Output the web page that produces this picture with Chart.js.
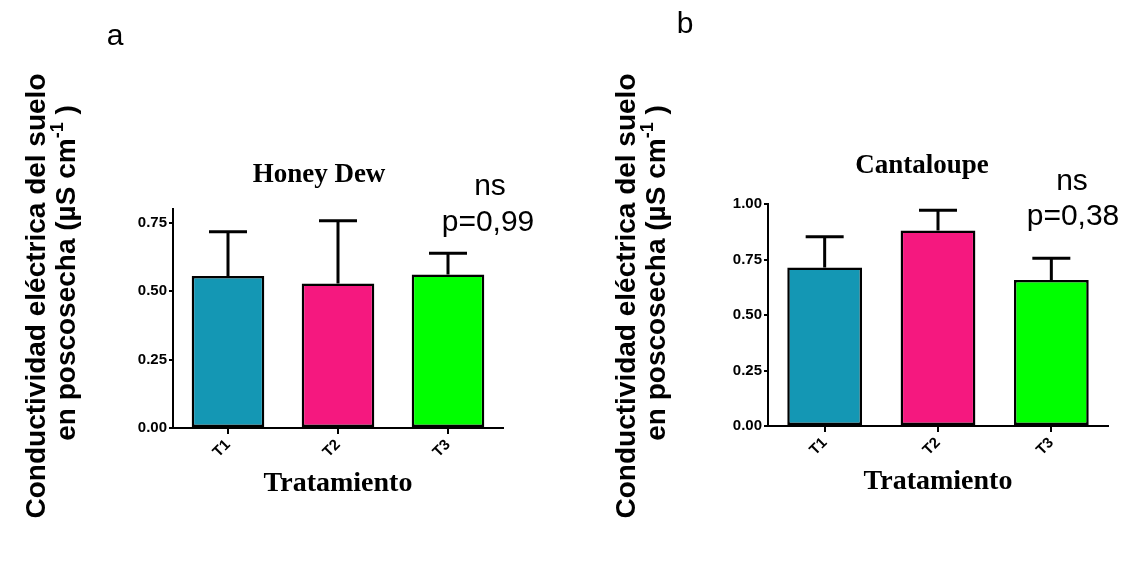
<!DOCTYPE html>
<html>
<head>
<meta charset="utf-8">
<script src="https://cdn.jsdelivr.net/npm/chart.js@4"></script>
<style>
body { margin: 0; background: #fff; width: 1129px; height: 564px; position: relative; overflow: hidden; }
canvas { position: absolute; top: 0; }
</style>
</head>
<body>
<canvas id="chartA" width="565" height="564" style="left:0"></canvas>
<canvas id="chartB" width="564" height="564" style="left:565px"></canvas>
<script>
// datos
var categories = ["T1", "T2", "T3"];
var barColors = ["#1497b4", "#f5187f", "#00ff00"];

var honeyMeans = [0.555, 0.528, 0.561];
var honeyErr = [0.162, 0.229, 0.077];
var cantaMeans = [0.714, 0.881, 0.658];
var cantaErr = [0.139, 0.091, 0.098];

var yTicksA = [0, 0.25, 0.5, 0.75];
var yTicksB = [0, 0.25, 0.5, 0.75, 1.0];

var yTitle1 = "Conductividad eléctrica del suelo";
var yTitle2 = "en poscosecha (µS cm";
var xTitle = "Tratamiento";

var SANS = '"Liberation Sans", Arial, sans-serif';
var SERIF = '"Liberation Serif", "Times New Roman", serif';

Chart.defaults.color = "#000";

// barras de error (solo hacia arriba)
var errorBars = {
  id: "errorBars",
  afterDatasetsDraw: function(chart, args, opts) {
    var ctx = chart.ctx;
    var ys = chart.scales.y;
    var ds = chart.data.datasets[0];
    var meta = chart.getDatasetMeta(0);
    ctx.save();
    ctx.strokeStyle = "#000";
    ctx.lineWidth = 3;
    meta.data.forEach(function(bar, i) {
      var top = ys.getPixelForValue(ds.data[i] + opts.err[i]);
      ctx.beginPath();
      ctx.moveTo(bar.x, bar.y);
      ctx.lineTo(bar.x, top);
      ctx.moveTo(bar.x - 19, top);
      ctx.lineTo(bar.x + 19, top);
      ctx.stroke();
    });
    ctx.restore();
  }
};

// textos: letra del panel, titulo, ns / p, titulo del eje y
var panelTexts = {
  id: "panelTexts",
  afterDraw: function(chart, args, o) {
    var ctx = chart.ctx;
    ctx.save();
    ctx.fillStyle = "#000";
    ctx.textAlign = "center";
    ctx.textBaseline = "alphabetic";

    ctx.font = "30px " + SANS;
    ctx.fillText(o.letter, o.letterX, o.letterY);

    ctx.font = "bold 27px " + SERIF;
    ctx.fillText(o.title, o.titleX, o.titleY);

    ctx.font = "30px " + SANS;
    ctx.fillText("ns", o.nsX, o.nsY);
    ctx.fillText(o.pText, o.pX, o.pY);
    ctx.restore();

    // titulo eje y, linea 1
    ctx.save();
    ctx.fillStyle = "#000";
    ctx.font = "bold 28px " + SANS;
    ctx.textAlign = "center";
    ctx.textBaseline = "alphabetic";
    ctx.translate(o.y1X, o.y1C);
    ctx.rotate(-Math.PI / 2);
    ctx.fillText(yTitle1, 0, 0);
    ctx.restore();

    // linea 2 con superindice
    ctx.save();
    ctx.fillStyle = "#000";
    ctx.textBaseline = "alphabetic";
    ctx.textAlign = "left";
    ctx.translate(o.y2X, o.y2C);
    ctx.rotate(-Math.PI / 2);
    var big = "bold 28px " + SANS, small = "bold 18px " + SANS;
    ctx.font = big;
    var w1 = ctx.measureText(yTitle2).width;
    var w3 = ctx.measureText(" )").width;
    ctx.font = small;
    var w2 = ctx.measureText("-1").width;
    var x = -(w1 + w2 + w3) / 2;
    ctx.font = big;
    ctx.fillText(yTitle2, x, 0);
    ctx.font = small;
    ctx.fillText("-1", x + w1, -12);
    ctx.font = big;
    ctx.fillText(" )", x + w1 + w2, 0);
    ctx.restore();
  }
};

function makeChart(id, means, errs, yMax, yTicks, yWidth, pad, texts) {
  return new Chart(document.getElementById(id), {
    type: "bar",
    data: {
      labels: categories,
      datasets: [{
        data: means,
        backgroundColor: barColors,
        borderColor: "#000",
        borderWidth: 2.5,
        borderSkipped: false,
        barPercentage: 0.66,
        categoryPercentage: 1
      }]
    },
    plugins: [errorBars, panelTexts],
    options: {
      responsive: false,
      animation: false,
      layout: { padding: pad },
      plugins: {
        legend: { display: false },
        tooltip: { enabled: false },
        errorBars: { err: errs },
        panelTexts: texts
      },
      scales: {
        x: {
          grid: { display: true, drawOnChartArea: false, drawTicks: true, tickLength: 6, offset: false, color: "#000", lineWidth: 2 },
          border: { display: true, color: "#000", width: 2 },
          ticks: { font: { family: SANS, size: 15, weight: "bold" }, minRotation: 45, maxRotation: 45, padding: 2 },
          title: { display: true, text: xTitle, font: { family: SERIF, size: 28, weight: "bold" }, padding: { top: 0, bottom: 7 } },
          afterFit: function(s) { s.height = 80; }
        },
        y: {
          min: 0,
          max: yMax,
          grid: { display: true, drawOnChartArea: false, drawTicks: true, tickLength: 4, color: "#000", lineWidth: 2 },
          border: { display: true, color: "#000", width: 2 },
          ticks: {
            font: { family: SANS, size: 15, weight: "bold" },
            padding: 2,
            callback: function(v) { return Number(v).toFixed(2); }
          },
          afterBuildTicks: function(s) {
            s.ticks = yTicks.map(function(v) { return { value: v }; });
          },
          afterFit: function(s) { s.width = yWidth; }
        }
      }
    }
  });
}

makeChart("chartA", honeyMeans, honeyErr, 0.8, yTicksA, 173,
  { left: 0, top: 209, right: 62, bottom: 56 },
  { letter: "a", letterX: 115, letterY: 45, title: "Honey Dew", titleX: 319, titleY: 182,
    nsX: 490, nsY: 195, pText: "p=0,99", pX: 488, pY: 231,
    y1X: 45, y1C: 296, y2X: 75, y2C: 273 });

makeChart("chartB", cantaMeans, cantaErr, 1.0, yTicksB, 203,
  { left: 0, top: 204, right: 21, bottom: 58 },
  { letter: "b", letterX: 120, letterY: 33, title: "Cantaloupe", titleX: 357, titleY: 173,
    nsX: 507, nsY: 190, pText: "p=0,38", pX: 508, pY: 225,
    y1X: 70, y1C: 296, y2X: 100, y2C: 273 });
</script>
</body>
</html>
